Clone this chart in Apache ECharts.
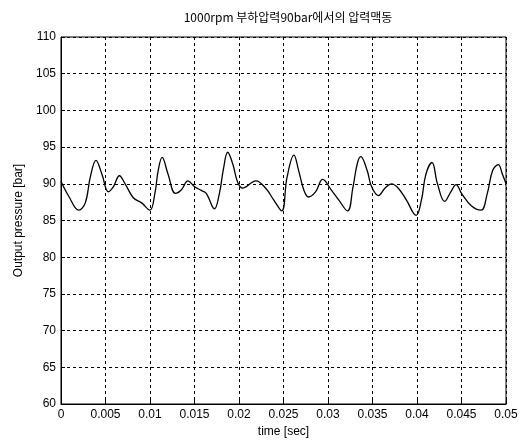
<!DOCTYPE html>
<html><head><meta charset="utf-8">
<script src="https://cdn.jsdelivr.net/npm/echarts@6/dist/echarts.min.js"></script>
<style>html,body{margin:0;padding:0;background:#fff}#c{width:527px;height:443px}</style>
</head><body><div id="c"></div>
<script>
var titleText = '1000rpm 부하압력90bar에서의 압력맥동';
var xName = 'time [sec]';
var yName = 'Output pressure [bar]';
var timeSec = [0, 0.00087, 0.00199, 0.00273, 0.00329, 0.00393, 0.0046, 0.00533, 0.00589, 0.00656, 0.0072, 0.00813, 0.00906, 0.00999, 0.01055, 0.01092, 0.01136, 0.01203, 0.01286, 0.01353, 0.01426, 0.01501, 0.01576, 0.01632, 0.01724, 0.0178, 0.01825, 0.01873, 0.0193, 0.01985, 0.0204, 0.0219, 0.023, 0.0239, 0.0248, 0.0254, 0.02617, 0.0267, 0.0273, 0.0278, 0.0286, 0.0294, 0.0304, 0.0312, 0.0322, 0.0328, 0.0333, 0.03368, 0.0344, 0.0349, 0.03566, 0.0364, 0.03714, 0.0379, 0.0388, 0.0399, 0.0405, 0.041, 0.04168, 0.0423, 0.0431, 0.0438, 0.04439, 0.045, 0.0461, 0.0472, 0.0479, 0.0485, 0.04913, 0.0496, 0.05];
var pressureBar = [90.3, 88.3, 86.4, 87.4, 90.9, 93.2, 91.3, 88.9, 89.6, 91.1, 90.0, 88.1, 87.4, 86.4, 88.7, 91.8, 93.6, 91.3, 88.7, 89.2, 90.4, 89.6, 89.1, 88.7, 86.6, 88.7, 92.0, 94.3, 92.7, 90.2, 89.4, 90.4, 89.4, 87.8, 86.3, 90.9, 93.9, 91.8, 89.1, 88.2, 88.9, 90.6, 89.1, 87.8, 86.3, 89.5, 92.8, 93.7, 91.8, 89.6, 88.4, 89.4, 90.0, 89.4, 87.8, 85.7, 87.8, 91.3, 92.9, 90.0, 87.6, 88.9, 89.9, 88.7, 87.0, 86.4, 88.7, 91.8, 92.6, 91.3, 90.0];
var xTicks = [0, 0.005, 0.01, 0.015, 0.02, 0.025, 0.03, 0.035, 0.04, 0.045, 0.05];
var yTicks = [60, 65, 70, 75, 80, 85, 90, 95, 100, 105, 110];

var pts = timeSec.map(function (t, i) { return [t, pressureBar[i]]; });
var chart = echarts.init(document.getElementById('c'));
var lblFont = {color: '#000', fontSize: 12, fontFamily: 'Liberation Sans, Arial, sans-serif'};
chart.setOption({
  animation: false,
  backgroundColor: '#fff',
  title: {text: titleText, left: 283, top: 6, textAlign: 'center',
    textStyle: {fontSize: 12, fontWeight: 'normal', color: '#000', fontFamily: 'Noto Sans CJK KR, sans-serif'}},
  grid: {left: 61, right: 21, top: 37, bottom: 36, show: true, borderColor: '#000', borderWidth: 1, backgroundColor: 'transparent'},
  xAxis: {type: 'value', min: 0, max: 0.05, interval: 0.005,
    name: xName, nameLocation: 'middle', nameGap: 22,
    nameTextStyle: lblFont,
    axisLine: {show: true, lineStyle: {color: '#000'}},
    axisTick: {show: true, inside: true, length: 4, lineStyle: {color: '#000'}},
    axisLabel: Object.assign({margin: 5, formatter: function (v) {
      var best = xTicks.reduce(function (a, b) { return Math.abs(b - v) < Math.abs(a - v) ? b : a; });
      return String(best);
    }}, lblFont),
    splitLine: {show: true, lineStyle: {color: '#000', type: [3, 3], width: 1}}},
  yAxis: {type: 'value', min: 60, max: 110, interval: 5,
    name: yName, nameLocation: 'middle', nameGap: 36, nameRotate: 90,
    nameTextStyle: lblFont,
    axisLine: {show: true, lineStyle: {color: '#000'}},
    axisTick: {show: true, inside: true, length: 4, lineStyle: {color: '#000'}},
    axisLabel: Object.assign({margin: 5}, lblFont),
    splitLine: {show: true, lineStyle: {color: '#000', type: [3, 3], width: 1}}},
  series: [{type: 'line', data: pts, smooth: 0.4, showSymbol: false,
    lineStyle: {color: '#000', width: 1.3}}]
});
</script></body></html>
